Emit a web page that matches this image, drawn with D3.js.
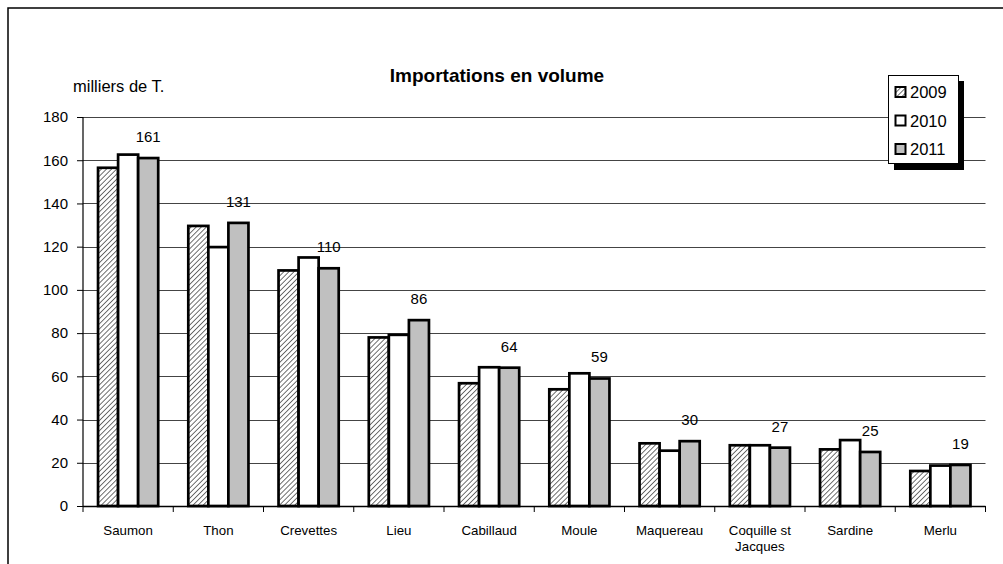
<!DOCTYPE html>
<html><head><meta charset="utf-8">
<script src="https://cdn.jsdelivr.net/npm/d3@7"></script>
<style>body{margin:0;background:#fff}svg{display:block;font-family:"Liberation Sans",Arial,sans-serif}</style>
</head><body>
<svg id="c" width="1003" height="564"></svg>
<script>
const categories = ["Saumon","Thon","Crevettes","Lieu","Cabillaud","Moule","Maquereau","Coquille st Jacques","Sardine","Merlu"];
const years = ["2009","2010","2011"];
const v2009 = [156.5,129.6,109,78,56.8,54,29,28.1,26.2,16.2];
const v2010 = [162.6,119.8,115,79.2,64.2,61.4,25.6,28.1,30.5,18.7];
const v2011 = [161,131,110,86,64,59,30,27,25,19];
const labels2011 = ["161","131","110","86","64","59","30","27","25","19"];
const yTicks = [0,20,40,60,80,100,120,140,160,180];
const title = "Importations en volume";
const yUnit = "milliers de T.";

const series = [v2009, v2010, v2011];
const svg = d3.select("#c");
const defs = svg.append("defs");
const pat = defs.append("pattern").attr("id","hatch").attr("patternUnits","userSpaceOnUse")
  .attr("width",3.6).attr("height",3.6).attr("patternTransform","rotate(45)");
pat.append("rect").attr("width",3.6).attr("height",3.6).attr("fill","#fff");
pat.append("line").attr("x1",0).attr("y1",0).attr("x2",0).attr("y2",3.6).attr("stroke","#333").attr("stroke-width",1.4);
const fills = ["url(#hatch)","#ffffff","#c0c0c0"];

// frame
svg.append("path").attr("d","M8,570 V8 H1010").attr("fill","none").attr("stroke","#000").attr("stroke-width",1.5);

const L=83, R=985.5, T=117, B=506;
const x = d3.scaleBand().domain(categories).range([L,R]).paddingInner(0).paddingOuter(0);
const y = d3.scaleLinear().domain([0,180]).range([B,T]);
const inner = d3.scaleBand().domain(years).range([x.bandwidth()/6, x.bandwidth()*5/6]);

// gridlines
svg.append("g").selectAll("line").data(yTicks.filter(t=>t>0)).join("line")
  .attr("x1",L).attr("x2",R).attr("y1",d=>Math.round(y(d))+0.5).attr("y2",d=>Math.round(y(d))+0.5)
  .attr("stroke","#444").attr("stroke-width",1);

// bars
categories.forEach((c,i)=>{
  years.forEach((yr,k)=>{
    const val = series[k][i];
    svg.append("rect").attr("x",x(c)+inner(yr)).attr("y",y(val))
      .attr("width",inner.bandwidth()).attr("height",B-y(val))
      .attr("fill",fills[k]).attr("stroke","#000").attr("stroke-width",2.7);
  });
});

// data labels
svg.append("g").selectAll("text").data(categories).join("text")
  .attr("x",(c)=>x(c)+inner("2011")+inner.bandwidth()/2)
  .attr("y",(c,i)=>y(v2011[i])-16)
  .attr("text-anchor","middle").attr("font-size",15).attr("fill","#000")
  .text((c,i)=>labels2011[i]);

// y axis
const ya = svg.append("g").attr("transform",`translate(${L},0)`)
  .call(d3.axisLeft(y).tickValues(yTicks).tickSize(6).tickPadding(9));
ya.select(".domain").attr("stroke","#000").attr("stroke-width",1.2).attr("d",`M-0,${T}V${B}`);
ya.selectAll(".tick line").attr("stroke","#000");
ya.selectAll(".tick text").attr("font-size",15).attr("fill","#000").attr("font-family","Liberation Sans, Arial, sans-serif");

// x axis
svg.append("line").attr("x1",L).attr("x2",R).attr("y1",B+0.5).attr("y2",B+0.5).attr("stroke","#000").attr("stroke-width",1.5);
const bounds = categories.map(c=>x(c)).concat([R]);
svg.append("g").selectAll("line").data(bounds).join("line")
  .attr("x1",d=>d).attr("x2",d=>d).attr("y1",B).attr("y2",B+6).attr("stroke","#000");
const cl = svg.append("g").selectAll("text").data(categories).join("text")
  .attr("x",c=>x(c)+x.bandwidth()/2).attr("y",535)
  .attr("text-anchor","middle").attr("font-size",13.3).attr("fill","#000");
cl.each(function(c){
  const t = d3.select(this);
  if (c==="Coquille st Jacques"){
    t.append("tspan").attr("x",x(c)+x.bandwidth()/2).attr("dy",0).text("Coquille st");
    t.append("tspan").attr("x",x(c)+x.bandwidth()/2).attr("dy",16).text("Jacques");
  } else t.text(c);
});

// titles
svg.append("text").attr("x",497).attr("y",82).attr("text-anchor","middle")
  .attr("font-size",19).attr("font-weight","bold").text(title);
svg.append("text").attr("x",73).attr("y",92).attr("font-size",16.5).text(yUnit);

// legend
const lg = svg.append("g");
lg.append("rect").attr("x",894).attr("y",81).attr("width",70).attr("height",89).attr("fill","#000");
lg.append("rect").attr("x",888.5).attr("y",75.5).attr("width",70).attr("height",88).attr("fill","#fff").attr("stroke","#000").attr("stroke-width",1);
years.forEach((yr,k)=>{
  const cy = 92 + k*28.5;
  lg.append("rect").attr("x",895.5).attr("y",cy-5).attr("width",10).attr("height",10)
    .attr("fill",fills[k]).attr("stroke","#000").attr("stroke-width",2);
  lg.append("text").attr("x",910).attr("y",cy+6).attr("font-size",16.5).text(yr);
});
</script>
</body></html>
